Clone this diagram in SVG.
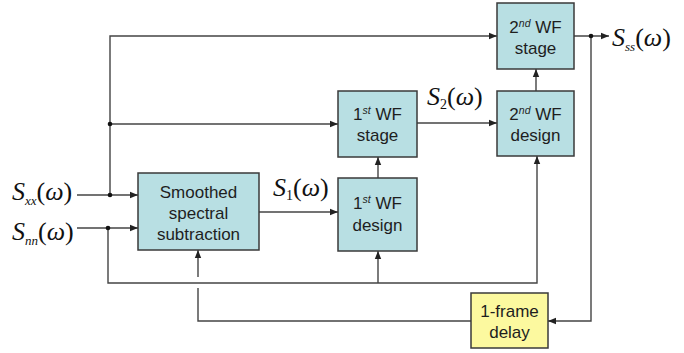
<svg xmlns="http://www.w3.org/2000/svg" width="684" height="353" viewBox="0 0 684 353">
<defs>
<marker id="arr" markerUnits="userSpaceOnUse" markerWidth="8" markerHeight="8" viewBox="0 0 8 8" refX="8" refY="4" orient="auto">
<path d="M0,0.8 L8,4 L0,7.2 Z" fill="#222"/>
</marker>
<style>
.box{fill:#b8dfe3;stroke:#3a3a3a;stroke-width:1.5}
.delay{fill:#fcf99f;stroke:#3a3a3a;stroke-width:1.5}
.lbl{font-family:"Liberation Sans",Arial,sans-serif;font-size:17px;fill:#1e1e1e;text-anchor:middle}
.sup{font-size:10.5px;font-style:italic}
.math{font-family:"Liberation Serif","Times New Roman",serif;font-size:26px;fill:#111}
.sub{font-size:13px;font-style:italic}
.ln{fill:none;stroke:#444;stroke-width:1.4}
.dot{fill:#111}
</style>
</defs>
<rect width="684" height="353" fill="#fff"/>
<g id="connectors">
<path class="ln" d="M77,195 H138" marker-end="url(#arr)"/>
<path class="ln" d="M110,195 V36 H497" marker-end="url(#arr)"/>
<path class="ln" d="M110,124 H338" marker-end="url(#arr)"/>
<path class="ln" d="M77,228 H138" marker-end="url(#arr)"/>
<path class="ln" d="M108,228 V283 H537 V156" marker-end="url(#arr)"/>
<path class="ln" d="M378,283 V251" marker-end="url(#arr)"/>
<path class="ln" d="M378,178 V157" marker-end="url(#arr)"/>
<path class="ln" d="M536,91 V69" marker-end="url(#arr)"/>
<path class="ln" d="M259,212 H338" marker-end="url(#arr)"/>
<path class="ln" d="M417,123 H497" marker-end="url(#arr)"/>
<path class="ln" d="M574,36 H609" marker-end="url(#arr)"/>
<path class="ln" d="M591,36 V321 H548" marker-end="url(#arr)"/>
<path class="ln" d="M471,321 H198 V288"/>
<path class="ln" d="M198,277 V250" marker-end="url(#arr)"/>
<circle class="dot" cx="110" cy="195" r="2.3"/>
<circle class="dot" cx="108" cy="228" r="2.3"/>
<circle class="dot" cx="110" cy="124" r="2.3"/>
<circle class="dot" cx="591" cy="36" r="2.3"/>
</g>
<g id="labels">
<text class="math" x="12" y="200"><tspan font-style="italic">S</tspan><tspan class="sub" dy="5">xx</tspan><tspan dy="-5">(</tspan><tspan font-style="italic">ω</tspan>)</text>
<text class="math" x="12" y="240"><tspan font-style="italic">S</tspan><tspan class="sub" dy="5">nn</tspan><tspan dy="-5">(</tspan><tspan font-style="italic">ω</tspan>)</text>
<text class="math" x="273" y="196"><tspan font-style="italic">S</tspan><tspan font-size="14" dy="4">1</tspan><tspan dy="-4">(</tspan><tspan font-style="italic">ω</tspan>)</text>
<text class="math" x="427" y="105"><tspan font-style="italic">S</tspan><tspan font-size="14" dy="4">2</tspan><tspan dy="-4">(</tspan><tspan font-style="italic">ω</tspan>)</text>
<text class="math" x="612" y="46"><tspan font-style="italic">S</tspan><tspan class="sub" dy="5">ss</tspan><tspan dy="-5">(</tspan><tspan font-style="italic">ω</tspan>)</text>
</g>
<g id="smoothed">
<rect class="box" x="138" y="173" width="121" height="77"/>
<text class="lbl" x="198.5" y="198">Smoothed</text>
<text class="lbl" x="198.5" y="219">spectral</text>
<text class="lbl" x="198.5" y="240">subtraction</text>
</g>
<g id="wf1stage">
<rect class="box" x="338" y="91" width="79" height="66"/>
<text class="lbl" x="377.5" y="120">1<tspan class="sup" dy="-6">st</tspan><tspan dy="6"> WF</tspan></text>
<text class="lbl" x="377.5" y="141">stage</text>
</g>
<g id="wf1design">
<rect class="box" x="338" y="178" width="79" height="73"/>
<text class="lbl" x="377.5" y="209">1<tspan class="sup" dy="-6">st</tspan><tspan dy="6"> WF</tspan></text>
<text class="lbl" x="377.5" y="231">design</text>
</g>
<g id="wf2stage">
<rect class="box" x="497" y="3" width="77" height="66"/>
<text class="lbl" x="535.5" y="33">2<tspan class="sup" dy="-6">nd</tspan><tspan dy="6"> WF</tspan></text>
<text class="lbl" x="535.5" y="54">stage</text>
</g>
<g id="wf2design">
<rect class="box" x="497" y="91" width="77" height="65"/>
<text class="lbl" x="535.5" y="120">2<tspan class="sup" dy="-6">nd</tspan><tspan dy="6"> WF</tspan></text>
<text class="lbl" x="535.5" y="141">design</text>
</g>
<g id="delay">
<rect class="delay" x="471" y="293" width="77" height="55"/>
<text class="lbl" x="509.5" y="317">1-frame</text>
<text class="lbl" x="509.5" y="338">delay</text>
</g>
</svg>
